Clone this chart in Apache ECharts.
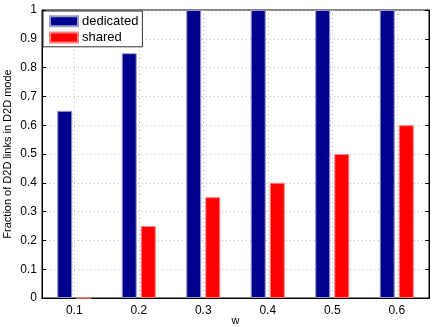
<!DOCTYPE html>
<html>
<head>
    <script src="https://cdn.jsdelivr.net/npm/echarts@6/dist/echarts.min.js"></script>
    <style>
        html,body{ margin:0; padding:0; background:#fff; }
        #chart{ width:436px; height:327px; }
    </style>
</head>
<body>
<div id="chart"></div>
<script>
    // w values
    var categories = ['0.1', '0.2', '0.3', '0.4', '0.5', '0.6'];
    // fraction of D2D links in D2D mode
    var dedicated = [0.65, 0.85, 1, 1, 1, 1];
    var shared = [0, 0.25, 0.35, 0.4, 0.5, 0.6];

    var font = 'Liberation Sans, Arial, sans-serif';
    var chart = echarts.init(document.getElementById('chart'));

    var option = {
        animation: false,
        grid: { left: 42, right: 7, top: 10, bottom: 29, outerBoundsMode: 'none',
                show: true, borderColor: '#000', borderWidth: 1 },
        legend: {
            data: ['dedicated', 'shared'],
            orient: 'vertical',
            left: 43, top: 11,
            itemWidth: 28, itemHeight: 10, itemGap: -6,
            padding: [-1, 4, -2, 6],
            backgroundColor: '#fff',
            borderColor: '#333', borderWidth: 1,
            textStyle: { fontFamily: font, fontSize: 13, color: '#000', padding: [0, 0, 0, -1] },
            icon: 'rect'
        },
        xAxis: [{
            type: 'category',
            data: categories,
            name: 'w',
            nameLocation: 'middle',
            nameGap: 13,
            nameMoveOverlap: false,
            nameTextStyle: { fontFamily: font, fontSize: 11, color: '#000' },
            axisLine: { lineStyle: { color: '#000' } },
            axisTick: { alignWithLabel: true, inside: true, length: 4, lineStyle: { color: '#000' } },
            axisLabel: { fontFamily: font, fontSize: 12, color: '#000', margin: 2 },
            splitLine: { show: true, alignWithLabel: true, lineStyle: { type: [1, 3], color: '#bbb' } }
        }, {
            type: 'category',
            data: categories,
            position: 'top',
            axisLine: { lineStyle: { color: '#000' } },
            axisTick: { alignWithLabel: true, inside: true, length: 4, lineStyle: { color: '#000' } },
            axisLabel: { show: false }
        }],
        yAxis: [{
            type: 'value',
            min: 0, max: 1, interval: 0.1,
            name: 'Fraction of D2D links in D2D mode',
            nameLocation: 'middle',
            nameGap: 25,
            nameMoveOverlap: false,
            nameTextStyle: { fontFamily: font, fontSize: 11, color: '#000' },
            axisLine: { show: true, lineStyle: { color: '#000' } },
            axisTick: { show: true, inside: true, length: 4, lineStyle: { color: '#000' } },
            axisLabel: { fontFamily: font, fontSize: 12, color: '#000', margin: 5 },
            splitLine: { show: true, lineStyle: { type: [1, 3], color: '#bbb' } }
        }, {
            type: 'value',
            min: 0, max: 1, interval: 0.1,
            position: 'right',
            axisLine: { show: true, lineStyle: { color: '#000' } },
            axisTick: { show: true, inside: true, length: 4, lineStyle: { color: '#000' } },
            axisLabel: { show: false },
            splitLine: { show: false }
        }],
        series: [{
            name: 'dedicated',
            type: 'bar',
            data: dedicated,
            barWidth: 15,
            barGap: '27%',
            itemStyle: { color: '#00008f', borderColor: '#9a9ac8', borderWidth: 1 }
        }, {
            name: 'shared',
            type: 'bar',
            data: shared,
            barWidth: 15,
            itemStyle: { color: '#ff0000', borderColor: '#ff8080', borderWidth: 1 }
        }]
    };
    chart.setOption(option);
</script>
</body>
</html>
